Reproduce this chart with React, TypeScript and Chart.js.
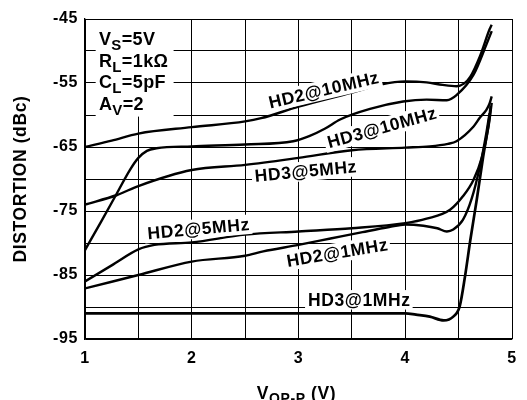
import React, { useEffect, useRef } from 'react';
import { Chart, registerables } from 'chart.js';

Chart.register(...registerables);

// ---- data ----
const xTickValues = [1, 2, 3, 4, 5];
const yTickValues = [-45, -55, -65, -75, -85, -95];

const hd2At10MHzV = [1.0, 1.25, 1.5, 2.0, 2.5, 2.65, 3.0, 3.5, 3.77, 4.0, 4.2, 4.35, 4.48, 4.55, 4.61, 4.7, 4.79, 4.81];
const hd2At10MHzDbc = [-65.0, -64.0, -62.9, -61.9, -61.0, -60.5, -58.7, -56.5, -55.25, -54.75, -54.9, -55.3, -55.5, -55.1, -54.0, -50.8, -46.6, -45.9];

const hd3At10MHzV = [1.0, 1.15, 1.29, 1.42, 1.5, 1.58, 1.67, 2.0, 2.5, 2.95, 3.1, 3.25, 3.39, 3.67, 3.98, 4.2, 4.39, 4.48, 4.64, 4.76, 4.81];
const hd3At10MHzDbc = [-81.1, -76.7, -72.5, -68.6, -66.7, -65.6, -65.2, -64.9, -64.6, -64.1, -63.3, -62.1, -60.7, -59.05, -57.9, -57.6, -57.7, -56.9, -53.7, -49.0, -46.9];

const hd3At5MHzV = [1.0, 1.3, 1.5, 2.0, 2.5, 3.0, 3.5, 4.0, 4.23, 4.4, 4.48, 4.64, 4.7, 4.76, 4.79, 4.81];
const hd3At5MHzDbc = [-74.0, -72.5, -71.1, -68.6, -67.8, -66.7, -65.5, -65.1, -64.9, -64.5, -64.1, -61.8, -60.4, -59.2, -58.2, -57.1];

const hd2At5MHzV = [1.0, 1.25, 1.5, 1.65, 2.0, 2.5, 3.0, 3.5, 4.0, 4.2, 4.42, 4.54, 4.64, 4.72, 4.78, 4.81];
const hd2At5MHzDbc = [-86.0, -83.5, -81.0, -80.3, -79.9, -78.7, -78.2, -77.7, -76.9, -76.2, -74.8, -72.7, -70.1, -66.5, -61.8, -58.1];

const hd2At1MHzV = [1.0, 1.5, 2.0, 2.5, 2.67, 3.0, 3.3, 3.6, 3.85, 4.0, 4.17, 4.3, 4.39, 4.45, 4.54, 4.62, 4.7, 4.76, 4.79];
const hd2At1MHzDbc = [-87.1, -85.0, -82.9, -82.0, -81.3, -80.3, -79.3, -78.3, -77.5, -77.1, -77.3, -77.7, -78.2, -77.9, -76.4, -73.2, -68.0, -62.8, -59.7];

const hd3At1MHzV = [1.0, 2.0, 3.0, 3.8, 4.0, 4.1, 4.23, 4.36, 4.45, 4.51, 4.56, 4.61, 4.67, 4.73, 4.79, 4.8];
const hd3At1MHzDbc = [-91.0, -91.0, -91.0, -91.0, -91.0, -91.2, -91.5, -92.1, -91.5, -89.9, -85.2, -79.5, -73.2, -66.5, -60.2, -58.6];

const seriesNames = ['HD2@10MHz', 'HD3@10MHz', 'HD3@5MHz', 'HD2@5MHz', 'HD2@1MHz', 'HD3@1MHz'];
const seriesV = [hd2At10MHzV, hd3At10MHzV, hd3At5MHzV, hd2At5MHzV, hd2At1MHzV, hd3At1MHzV];
const seriesDbc = [hd2At10MHzDbc, hd3At10MHzDbc, hd3At5MHzDbc, hd2At5MHzDbc, hd2At1MHzDbc, hd3At1MHzDbc];

// curve label placement (data coords) and rotation
const labelV = [3.237, 3.781, 3.068, 2.064, 3.363, 3.57];
const labelDbc = [-56.0, -61.9, -68.7, -77.7, -81.45, -88.8];
const labelAngles = [-13.3, -15.5, -5.3, -5.2, -9.5, 0];

const FONT = '"Liberation Sans", Arial, Helvetica, sans-serif';

type Part = { t: string; size: number; dy?: number };

function setSpacing(ctx: CanvasRenderingContext2D, px: number) {
  (ctx as any).letterSpacing = px + 'px';
}

function drawRich(ctx: CanvasRenderingContext2D, x: number, y: number, parts: Part[], align: 'left' | 'center') {
  let total = 0;
  const widths = parts.map((p) => {
    ctx.font = `bold ${p.size}px ${FONT}`;
    const w = ctx.measureText(p.t).width;
    total += w;
    return w;
  });
  let cx = align === 'center' ? x - total / 2 : x;
  ctx.textAlign = 'left';
  ctx.textBaseline = 'alphabetic';
  parts.forEach((p, i) => {
    ctx.font = `bold ${p.size}px ${FONT}`;
    ctx.fillText(p.t, cx, y + (p.dy || 0));
    cx += widths[i];
  });
}

const annotationLines: Part[][] = [
  [{ t: 'V', size: 18 }, { t: 'S', size: 15, dy: 5 }, { t: '=5V', size: 18 }],
  [{ t: 'R', size: 18 }, { t: 'L', size: 15, dy: 5 }, { t: '=1kΩ', size: 18 }],
  [{ t: 'C', size: 18 }, { t: 'L', size: 15, dy: 5 }, { t: '=5pF', size: 18 }],
  [{ t: 'A', size: 18 }, { t: 'V', size: 15, dy: 5 }, { t: '=2', size: 18 }],
];

const decorPlugin = {
  id: 'decor',
  beforeDraw(chart: any) {
    setSpacing(chart.ctx, 0.6);
  },
  beforeDatasetsDraw(chart: any) {
    const ctx: CanvasRenderingContext2D = chart.ctx;
    const xs = chart.scales.x;
    const ys = chart.scales.y;
    const ca = chart.chartArea;
    // white box behind the condition block
    const l = xs.getPixelForValue(1.1);
    const r = xs.getPixelForValue(1.83);
    const b = ys.getPixelForValue(-60.25);
    ctx.save();
    ctx.fillStyle = '#fff';
    ctx.fillRect(l, ca.top + 1, r - l, b - ca.top - 1);
    ctx.restore();
  },
  afterDatasetsDraw(chart: any) {
    const ctx: CanvasRenderingContext2D = chart.ctx;
    const xs = chart.scales.x;
    const ys = chart.scales.y;
    ctx.save();
    seriesNames.forEach((name, i) => {
      const px = xs.getPixelForValue(labelV[i]);
      const py = ys.getPixelForValue(labelDbc[i]);
      ctx.save();
      ctx.translate(px, py);
      ctx.rotate((labelAngles[i] * Math.PI) / 180);
      ctx.font = `bold 17.5px ${FONT}`;
      setSpacing(ctx, 0.6);
      const w = ctx.measureText(name).width;
      const cap = 12.5;
      ctx.fillStyle = '#fff';
      ctx.fillRect(-w / 2 - 3, -cap / 2 - 3, w + 5, cap + 7);
      ctx.fillStyle = '#000';
      ctx.textAlign = 'center';
      ctx.textBaseline = 'alphabetic';
      ctx.fillText(name, 0, cap / 2);
      ctx.restore();
    });
    ctx.restore();
  },
  afterDraw(chart: any) {
    const ctx: CanvasRenderingContext2D = chart.ctx;
    const ca = chart.chartArea;
    ctx.save();
    ctx.fillStyle = '#000';
    setSpacing(ctx, 0.4);
    // condition block
    const left = chart.scales.x.getPixelForValue(1.13);
    annotationLines.forEach((parts, i) => {
      drawRich(ctx, left, ca.top + 26 + i * 21.7, parts, 'left');
    });
    // x axis title
    setSpacing(ctx, 0.6);
    drawRich(
      ctx,
      (ca.left + ca.right) / 2 - 2,
      399,
      [
        { t: 'V', size: 17.5 },
        { t: 'OP-P', size: 14, dy: 4 },
        { t: ' (V)', size: 17.5 },
      ],
      'center'
    );
    // y axis title
    ctx.save();
    ctx.translate(25.5, (ca.top + ca.bottom) / 2);
    ctx.rotate(-Math.PI / 2);
    ctx.font = `bold 17.5px ${FONT}`;
    ctx.textAlign = 'center';
    ctx.textBaseline = 'alphabetic';
    ctx.fillText('DISTORTION (dBc)', 0, 0);
    ctx.restore();
    ctx.restore();
  },
};

export default function App() {
  const ref = useRef<HTMLCanvasElement>(null);

  useEffect(() => {
    const canvas = ref.current;
    if (!canvas) return;
    const datasets = seriesNames.map((name, i) => ({
      label: name,
      data: seriesV[i].map((v, j) => ({ x: v, y: seriesDbc[i][j] })),
      borderColor: '#000',
      backgroundColor: '#000',
      borderWidth: i === 5 ? 2.7 : 2.4,
      pointRadius: 0,
      fill: false,
      cubicInterpolationMode: 'monotone' as const,
    }));

    const tickFont = { family: FONT, size: 16, weight: 'bold' as const };

    const chart = new Chart(canvas, {
      type: 'line',
      data: { datasets },
      options: {
        animation: false,
        responsive: false,
        events: [],
        layout: { padding: { top: 19, right: 15, left: 0, bottom: 0 } },
        plugins: {
          legend: { display: false },
          tooltip: { enabled: false },
        },
        scales: {
          x: {
            type: 'linear',
            min: 1,
            max: 5,
            afterFit: (s: any) => {
              s.height = 61;
            },
            ticks: {
              stepSize: 0.5,
              autoSkip: false,
              maxRotation: 0,
              color: '#000',
              font: tickFont,
              padding: 10,
              callback: (v: any) => (xTickValues.includes(Number(v)) ? String(v) : ''),
            },
            grid: { color: '#000', lineWidth: 1, drawTicks: false },
            border: { color: '#000', width: 1.3 },
          },
          y: {
            type: 'linear',
            min: -95,
            max: -45,
            afterFit: (s: any) => {
              s.width = 85;
            },
            ticks: {
              stepSize: 5,
              autoSkip: false,
              color: '#000',
              font: tickFont,
              padding: 7,
              callback: (v: any) => (yTickValues.includes(Number(v)) ? String(v) : ''),
            },
            grid: { color: '#000', lineWidth: 1, drawTicks: false },
            border: { color: '#000', width: 1.3 },
          },
        },
      },
      plugins: [decorPlugin],
    });

    return () => {
      chart.destroy();
    };
  }, []);

  return (
    <div style={{ position: 'fixed', left: 0, top: 0, width: 527, height: 400, background: '#fff' }}>
      <canvas ref={ref} width={527} height={400} style={{ width: 527, height: 400, display: 'block' }} />
    </div>
  );
}
